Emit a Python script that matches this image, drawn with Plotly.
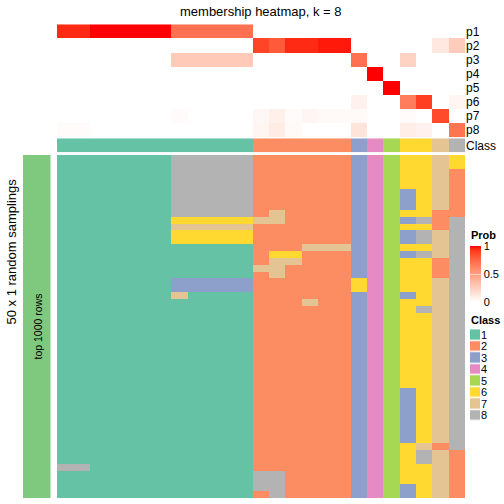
import plotly.graph_objects as go

# ---------------- data ----------------
row_labels = ["p1", "p2", "p3", "p4", "p5", "p6", "p7", "p8"]
class_labels = ["1", "2", "3", "4", "5", "6", "7", "8"]
class_colors = ["#66C2A5", "#FC8D62", "#8DA0CB", "#E78AC3",
                "#A6D854", "#FFD92F", "#E5C494", "#B3B3B3"]

# class of each of the 25 samples (columns)
col_class = [1] * 12 + [2] * 6 + [3, 4, 5, 6, 6, 7, 8]

# membership probabilities p1..p8 for the 25 columns
p1 = [0.95, 0.95, 1, 1, 1, 1, 1, 0.71, 0.71, 0.71, 0.71, 0.71,
      0, 0, 0, 0, 0, 0, 0, 0, 0, 0, 0, 0, 0]
p2 = [0] * 12 + [0.88, 0.80, 0.95, 0.95, 0.97, 0.97, 0, 0, 0, 0, 0, 0.12, 0.27]
p3 = [0] * 7 + [0.28] * 5 + [0] * 6 + [0.71, 0, 0, 0.23, 0, 0, 0]
p4 = [0] * 19 + [1, 0, 0, 0, 0, 0]
p5 = [0] * 20 + [1, 0, 0, 0, 0]
p6 = [0] * 18 + [0.07, 0, 0, 0.66, 0.90, 0, 0.05]
p7 = [0, 0, 0, 0, 0, 0, 0, 0.02, 0, 0, 0, 0,
      0.04, 0.08, 0.02, 0.05, 0.03, 0.03, 0.03, 0, 0, 0.02, 0, 0.86, 0]
p8 = [0.02, 0.02, 0, 0, 0, 0, 0, 0, 0, 0, 0, 0,
      0.05, 0.10, 0.03, 0, 0, 0, 0.14, 0, 0, 0.09, 0.07, 0, 0.69]
membership = [p1, p2, p3, p4, p5, p6, p7, p8]

# class assignment in each of 50 random samplings (rows) x 25 columns
samplings = [
    "1111111888882222223456676",
    "1111111888882222223456676",
    "1111111888882222223456672",
    "1111111888882222223456672",
    "1111111888882222223456672",
    "1111111888882222223453672",
    "1111111888882222223453672",
    "1111111888882222223453672",
    "1111111888882722223456622",
    "1111111666667722223453828",
    "1111111777772222223456628",
    "1111111666662222223453878",
    "1111111666662222223453878",
    "1111111111112227773456678",
    "1111111111112662223453878",
    "1111111111112772223456628",
    "1111111111117722223456628",
    "1111111111112722223456628",
    "1111111333332222226456678",
    "1111111333332222226456678",
    "1111111711112222223453678",
    "1111111111112227223456678",
    "1111111111112222223456878",
] + ["1111111111112222223456678"] * 11 + ["1111111111112222223453678"] * 8 + [
    "1111111111112222223456728",
    "1111111111112222223456872",
    "1111111111112222223456872",
    "8811111111112222223456672",
    "1111111111118822223456672",
    "1111111111118822223456672",
    "1111111111118822223453672",
    "1111111111112822223453672",
]
sampling_matrix = [[int(ch) for ch in row] for row in samplings]

# ---------------- styling helpers ----------------
W = H = 504
FONT = "Liberation Sans, Arial, Helvetica, sans-serif"


def px(x):
    return x / W


def py(y):
    return 1 - y / H


def lab_to_rgb(L, a, b):
    fy = (L + 16) / 116
    fx = fy + a / 500
    fz = fy - b / 200

    def finv(t):
        return t ** 3 if t ** 3 > 0.008856 else (t - 16 / 116) / 7.787
    X, Y, Z = 0.95047 * finv(fx), 1.0 * finv(fy), 1.08883 * finv(fz)
    r = 3.2406 * X - 1.5372 * Y - 0.4986 * Z
    g = -0.9689 * X + 1.8758 * Y + 0.0415 * Z
    bb = 0.0557 * X - 0.2040 * Y + 1.0570 * Z

    def comp(c):
        c = min(max(c, 0), 1)
        c = 1.055 * c ** (1 / 2.4) - 0.055 if c > 0.0031308 else 12.92 * c
        return int(round(min(max(c, 0), 1) * 255))
    return "rgb(%d,%d,%d)" % (comp(r), comp(g), comp(bb))


white_lab = (100.0, 0.0, 0.0)
red_lab = (53.24, 80.09, 67.20)
prob_scale = []
for i in range(21):
    t = i / 20
    L = white_lab[0] + (red_lab[0] - white_lab[0]) * t
    a = white_lab[1] + (red_lab[1] - white_lab[1]) * t
    b = white_lab[2] + (red_lab[2] - white_lab[2]) * t
    prob_scale.append([t, lab_to_rgb(L, a, b)])

n = len(class_colors)
class_scale = []
for i, c in enumerate(class_colors):
    class_scale.append([i / n, c])
    class_scale.append([(i + 1) / n, c])

ncol = len(col_class)
xs = list(range(ncol))

fig = go.Figure()

# membership heatmap
fig.add_trace(go.Heatmap(
    z=membership, x=xs, y=list(range(len(row_labels))),
    colorscale=prob_scale, zmin=0, zmax=1,
    xaxis="x", yaxis="y", hoverinfo="skip",
    colorbar=dict(
        x=px(470), xanchor="left", xpad=0,
        y=py(246), yanchor="top", ypad=0,
        len=56, lenmode="pixels", thickness=11, thicknessmode="pixels",
        outlinewidth=0, tickvals=[0, 0.5, 1], ticktext=["0", "0.5", "1"],
        ticks="inside", ticklen=11, tickcolor="rgba(255,255,255,0.5)",
        tickfont=dict(size=11, color="black", family=FONT),
    ),
))

# class annotation row
fig.add_trace(go.Heatmap(
    z=[col_class], x=xs, y=[0],
    colorscale=class_scale, zmin=0.5, zmax=n + 0.5, showscale=False,
    xaxis="x", yaxis="y2", hoverinfo="skip",
))

# sampling heatmap
fig.add_trace(go.Heatmap(
    z=sampling_matrix, x=xs, y=list(range(len(samplings))),
    colorscale=class_scale, zmin=0.5, zmax=n + 0.5, showscale=False,
    xaxis="x", yaxis="y3", hoverinfo="skip",
))

# left split bar
fig.add_trace(go.Heatmap(
    z=[[0]], x=[0], y=[0],
    colorscale=[[0, "#7FC97F"], [1, "#7FC97F"]], showscale=False,
    xaxis="x2", yaxis="y4", hoverinfo="skip",
))

# class legend swatches
fig.add_trace(go.Heatmap(
    z=[[i + 1] for i in range(n)], x=[0], y=list(range(n)),
    colorscale=class_scale, zmin=0.5, zmax=n + 0.5, showscale=False,
    ygap=1.5, xaxis="x3", yaxis="y5", hoverinfo="skip",
))

hidden = dict(showgrid=False, zeroline=False, showticklabels=False, ticks="",
              showline=False)

fig.update_layout(
    width=W, height=H,
    margin=dict(l=0, r=0, t=0, b=0, autoexpand=False),
    paper_bgcolor="white", plot_bgcolor="white",
    font=dict(family=FONT, color="black"),
    xaxis=dict(domain=[px(57), px(465)], range=[-0.5, ncol - 0.5], anchor="y3", **hidden),
    yaxis=dict(domain=[py(137.3), py(24.3)], range=[7.5, -0.5], anchor="x",
               side="right", tickvals=list(range(8)), ticktext=row_labels,
               showgrid=False, zeroline=False, ticks="",
               tickfont=dict(size=12, family=FONT)),
    yaxis2=dict(domain=[py(152.3), py(138.3)], range=[0.5, -0.5], anchor="x",
                side="right", tickvals=[0], ticktext=["Class"],
                showgrid=False, zeroline=False, ticks="",
                tickfont=dict(size=12, family=FONT)),
    yaxis3=dict(domain=[py(498), py(155)], range=[len(samplings) - 0.5, -0.5],
                anchor="x", **hidden),
    xaxis2=dict(domain=[px(23), px(50.5)], range=[-0.5, 0.5], anchor="y4", **hidden),
    yaxis4=dict(domain=[py(498), py(155)], range=[-0.5, 0.5], anchor="x2", **hidden),
    xaxis3=dict(domain=[px(470), px(480)], range=[-0.5, 0.5], anchor="y5", **hidden),
    yaxis5=dict(domain=[py(421.3), py(329.2)], range=[n - 0.5, -0.5], anchor="x3",
                side="right", tickvals=list(range(n)), ticktext=class_labels,
                showgrid=False, zeroline=False, ticks="",
                tickfont=dict(size=11, family=FONT)),
    annotations=[
        dict(text="membership heatmap, k = 8", x=px(261), y=py(11),
             xref="paper", yref="paper", showarrow=False,
             xanchor="center", yanchor="middle", font=dict(size=13)),
        dict(text="50 x 1 random samplings", x=px(10.5), y=py(252),
             xref="paper", yref="paper", showarrow=False, textangle=-90,
             xanchor="center", yanchor="middle", font=dict(size=13)),
        dict(text="top 1000 rows", x=px(37), y=py(326.5),
             xref="paper", yref="paper", showarrow=False, textangle=-90,
             xanchor="center", yanchor="middle", font=dict(size=10.5)),
        dict(text="<b>Prob</b>", x=px(469), y=py(235),
             xref="paper", yref="paper", showarrow=False,
             xanchor="left", yanchor="middle", font=dict(size=11)),
        dict(text="<b>Class</b>", x=px(469), y=py(320),
             xref="paper", yref="paper", showarrow=False,
             xanchor="left", yanchor="middle", font=dict(size=11)),
    ],
)

fig.write_html("out.html", config={"displayModeBar": False},
               post_script="document.body.style.margin='0';")
